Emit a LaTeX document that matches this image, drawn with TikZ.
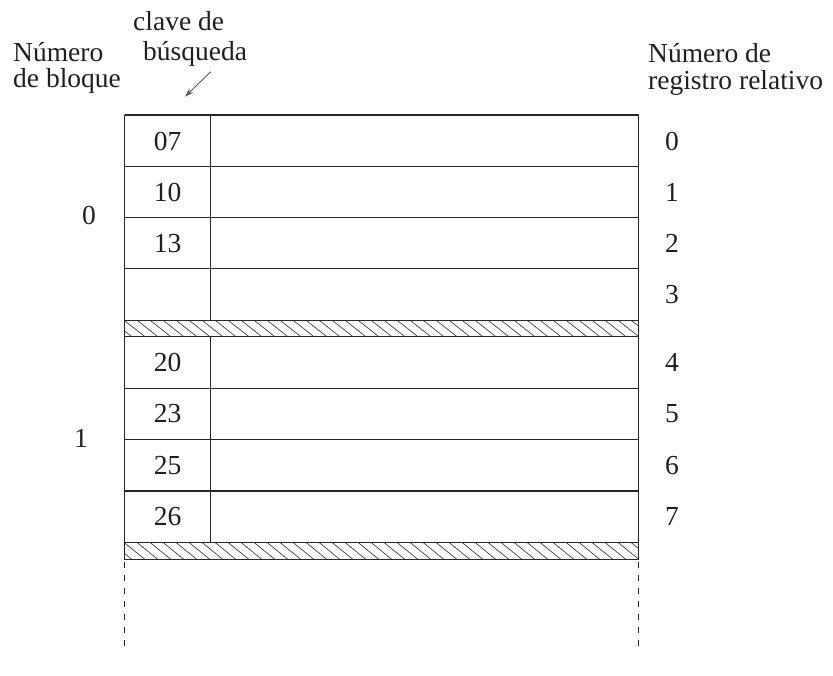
\documentclass[tikz,border=0pt]{standalone}
\usepackage{fontspec}
\setmainfont{Liberation Serif}
\usetikzlibrary{arrows.meta}
\begin{document}
\begin{tikzpicture}[x=1pt,y=-1pt,
  lbl/.style={inner sep=0pt,text=black!88,font=\fontsize{27.5}{31}\selectfont},
  rule/.style={line width=1.1pt,black!85},
  hatchline/.style={line width=0.7pt,black!75},
  dashline/.style={line width=1.1pt,black!85,dash pattern=on 6pt off 7pt},
  pointer/.style={line width=0.9pt,black!65,-{Stealth[length=9pt,width=6pt,inset=3pt]}}]
\useasboundingbox (0,0) rectangle (833,675);
% geometry
\def\xl{124.7}\def\xd{210.7}\def\xr{638.7}
% outer frame and row lines
\draw[rule] (\xl,115) -- (\xr,115);
\foreach \y in {166.3,217.6,268.9,388.2,439.6,491.0}{\draw[rule] (\xl,\y) -- (\xr,\y);}
% bands
\foreach \t/\b in {320.2/336.8,542.4/559.5}{
  \begin{scope}
    \clip (\xl,\t) rectangle (\xr,\b);
    \foreach \x in {98,111,...,650}{\draw[hatchline] (\x,\t) -- ({\x+21},\b);}
  \end{scope}
  \draw[rule] (\xl,\t) rectangle (\xr,\b);
}
% verticals
\draw[rule] (\xl,115) -- (\xl,559.5);
\draw[rule] (\xr,115) -- (\xr,559.5);
\draw[rule] (\xd,115) -- (\xd,320.2);
\draw[rule] (\xd,336.8) -- (\xd,542.4);
% dashed continuation
\draw[dashline] (\xl,562) -- (\xl,648);
\draw[dashline] (\xr,562) -- (\xr,648);
% keys
\node[lbl] (k0) at (167.7,141) {07};
\node[lbl] (k1) at (167.7,192.3) {10};
\node[lbl] (k2) at (167.7,243.6) {13};
\node[lbl] (k4) at (167.7,362.5) {20};
\node[lbl] (k5) at (167.7,413.9) {23};
\node[lbl] (k6) at (167.7,465.3) {25};
\node[lbl] (k7) at (167.7,516.7) {26};
% relative record numbers
\foreach \n/\y in {0/141,1/192.3,2/243.6,3/294.9,4/362.5,5/413.9,6/465.3,7/516.7}{
  \node[lbl] (r\n) at (672,\y) {\n};
}
% block numbers
\node[lbl] (b0) at (89,215) {0};
\node[lbl] (b1) at (81,438) {1};
% headings
\node[lbl,anchor=base west] (h1) at (13,61) {Número};
\node[lbl,anchor=base west] (h2) at (13,87) {de bloque};
\node[lbl,anchor=base west] (c1) at (133,30) {clave de};
\node[lbl,anchor=base west] (c2) at (143,60) {búsqueda};
\node[lbl,anchor=base west] (n1) at (648,62) {Número de};
\node[lbl,anchor=base west] (n2) at (648,89) {registro relativo};
% pointer
\coordinate (ptail) at (210.7,71.7);
\coordinate (phead) at (185,96.7);
\draw[pointer] (ptail) -- (phead);
\end{tikzpicture}
\end{document}
